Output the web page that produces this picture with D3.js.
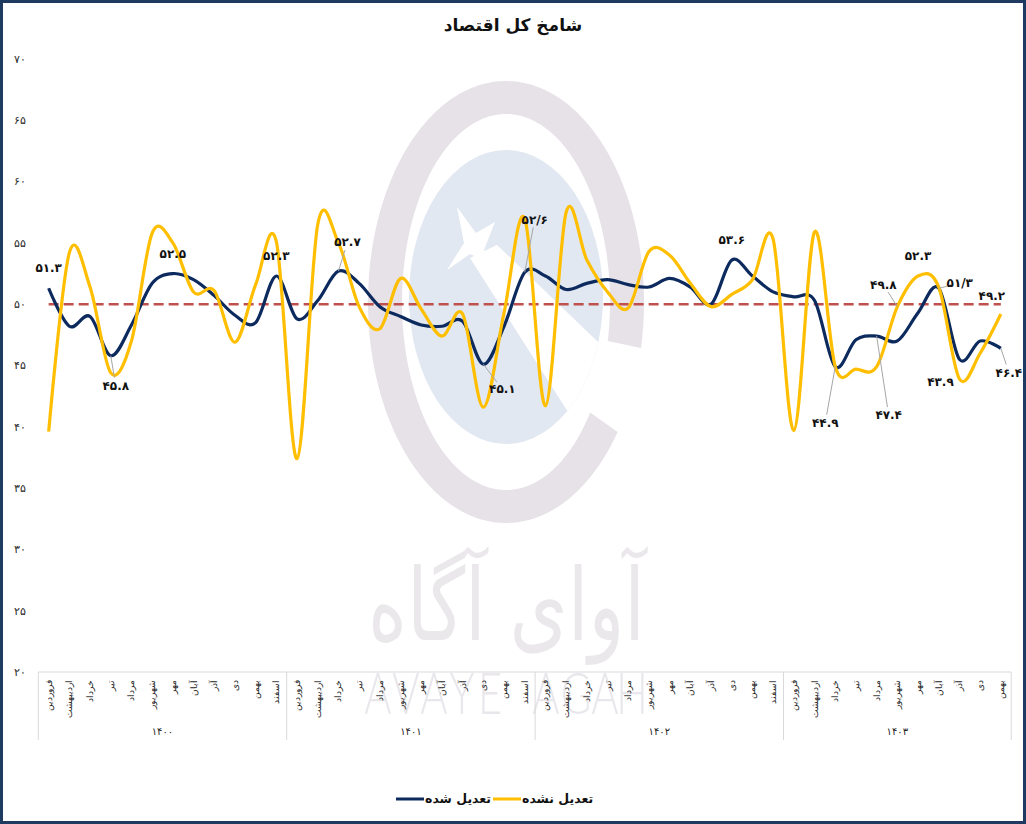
<!DOCTYPE html>
<html lang="fa">
<head>
<meta charset="UTF-8">
<title>شامخ کل اقتصاد</title>
<style>
    body {
        margin: 0;
        background: #fff;
    }
    svg {
        display: block;
        font-family: "DejaVu Sans", sans-serif;
    }
    .tick-label { fill: #262626; font-size: 10.5px; }
    .month-label { fill: #262626; font-size: 8.5px; }
    .year-label { fill: #262626; font-size: 10px; }
    .data-label { fill: #111; font-size: 12px; font-weight: bold; }
    .leader { stroke: #a6a6a6; stroke-width: 1; }
</style>
<script src="https://cdn.jsdelivr.net/npm/d3@7"></script>
</head>
<body>
<svg id="chart" width="1026" height="824"></svg>
<script>
    // ---- data ----
    const months = ["فروردین", "اردیبهشت", "خرداد", "تیر", "مرداد", "شهریور",
                    "مهر", "آبان", "آذر", "دی", "بهمن", "اسفند"];
    const years = ["۱۴۰۰", "۱۴۰۱", "۱۴۰۲", "۱۴۰۳"];
    const monthsPerYear = [12, 12, 12, 11];

    // تعدیل شده
    const adjusted = [51.3, 48.2, 49.0, 45.8, 48.3, 51.7, 52.5, 52.0, 50.7, 49.1, 48.5, 52.3,
                      48.8, 50.3, 52.7, 51.7, 49.8, 49.0, 48.3, 48.2, 48.6, 45.1, 48.2, 52.6,
                      52.3, 51.2, 51.7, 52.0, 51.6, 51.4, 52.1, 51.4, 50.0, 53.6, 52.3, 51.0,
                      50.6, 50.3, 44.9, 47.1, 47.4, 47.0, 49.3, 51.3, 45.5, 47.0, 46.4];
    // تعدیل نشده
    const unadjusted = [39.6, 54.2, 51.4, 44.4, 47.0, 55.8, 55.0, 51.0, 51.1, 46.9, 51.6, 55.1,
                        37.4, 56.5, 55.0, 49.8, 48.0, 52.1, 49.6, 47.4, 49.2, 41.6, 49.3, 57.0,
                        41.7, 57.5, 53.6, 51.0, 49.7, 54.3, 54.0, 51.7, 49.8, 50.8, 52.0, 55.3,
                        39.7, 55.9, 44.9, 44.7, 44.9, 49.8, 52.3, 51.4, 43.9, 46.0, 49.2];
    const threshold = 50;
    const yTicks = [20, 25, 30, 35, 40, 45, 50, 55, 60, 65, 70];

    // data labels shown on the chart
    const labelSeries = ["adj", "adj", "adj", "adj", "adj", "adj", "adj", "adj",
                         "adj", "adj", "unadj", "unadj", "adj", "unadj", "unadj", "adj"];
    const labelIndex = [0, 3, 6, 11, 14, 21, 23, 33, 38, 40, 41, 42, 43, 44, 46, 46];
    const labelText = ["۵۱.۳", "۴۵.۸", "۵۲.۵", "۵۲.۳", "۵۲.۷", "۴۵.۱", "۵۲/۶", "۵۳.۶",
                       "۴۴.۹", "۴۷.۴", "۴۹.۸", "۵۲.۳", "۵۱/۳", "۴۳.۹", "۴۹.۲", "۴۶.۴"];

    // label placement (offset from its point) and leader flag
    const labelOffsets = [[0, -20], [5, 30], [0, -20], [0, -20], [9, -29], [19, 25], [10, -53], [0, -20],
                          [-10, 56], [12, 79], [-14, -22], [0, -20], [21, -5], [-19, 3], [-9, -18], [8, 24]];
    const labelLeader = [false, true, false, false, true, true, true, false,
                         true, true, true, false, true, false, false, true];

    const toFa = v => String(v).replace(/\d/g, d => "۰۱۲۳۴۵۶۷۸۹"[d]);

    // ---- setup ----
    const width = 1026, height = 824;
    const N = adjusted.length;
    const svg = d3.select("#chart");

    const x = d3.scaleBand()
                .domain(d3.range(N))
                .range([38.3, 1011.2]);
    const cx = i => x(i) + x.bandwidth() / 2;

    const y = d3.scaleLinear()
                .domain([20, 70])
                .range([672, 59]);

    // frame
    svg.append("rect")
       .attr("x", 1.5).attr("y", 1.5)
       .attr("width", width - 3).attr("height", height - 3)
       .attr("fill", "#fff")
       .attr("stroke", "#1f3a60")
       .attr("stroke-width", 3);

    // ---- watermark (logo + name) ----
    const wm = svg.append("g").attr("class", "watermark");
    const lx = 506, ly = 302;

    function ringPath(rxo, ryo, rxi, ryi, a0, a1) {
        const ts = d3.range(a0, a1 + 0.5, 1).map(a => a * Math.PI / 180);
        const outer = ts.map(t => [lx + rxo * Math.cos(t), ly + ryo * Math.sin(t)]);
        const inner = ts.slice().reverse().map(t => [lx + rxi * Math.cos(t), ly + ryi * Math.sin(t)]);
        return d3.line()(outer.concat(inner)) + "Z";
    }
    wm.append("path")
      .attr("d", ringPath(138, 221, 104, 188, 36, 372))
      .attr("fill", "#e7e2e8");

    wm.append("clipPath").attr("id", "disc-clip")
      .append("ellipse")
      .attr("cx", 506).attr("cy", 297).attr("rx", 97).attr("ry", 147);
    wm.append("ellipse")
      .attr("cx", 506).attr("cy", 297).attr("rx", 97).attr("ry", 147)
      .attr("fill", "#e2e8f1");
    wm.append("polygon")
      .attr("clip-path", "url(#disc-clip)")
      .attr("points", "470,258 497,245 650,392 605,470")
      .attr("fill", "#fff");
    wm.append("polygon")
      .attr("points", "457,207 476,233 495,222 484,250 488,262 470,254 447,270 464,243")
      .attr("fill", "#fff");

    wm.append("text")
      .attr("x", 368).attr("y", 640)
      .attr("textLength", 277)
      .attr("lengthAdjust", "spacingAndGlyphs")
      .attr("fill", "#ebe8ec")
      .style("font-size", "100px")
      .text("آوای آگاه");

    // latin name, one letter at a time (narrow, widely spaced)
    const wmLetters = "AVAYE AGAH".split("").filter(c => c !== " ");
    const wmLetterX = [378, 406, 434, 462, 490, 546, 576, 605, 632];
    wm.append("g").selectAll("text")
      .data(wmLetters)
      .join("text")
      .attr("transform", (d, k) => `translate(${wmLetterX[k]},714) scale(0.72,1)`)
      .attr("text-anchor", "middle")
      .attr("fill", "#e9e7eb")
      .style("font-family", "Lato, 'Open Sans', sans-serif")
      .style("font-weight", 300)
      .style("font-size", "58px")
      .text(d => d);

    // ---- title ----
    svg.append("text")
       .attr("x", 513).attr("y", 31)
       .attr("text-anchor", "middle")
       .style("font-size", "17px")
       .style("font-weight", "bold")
       .attr("fill", "#111")
       .text("شامخ کل اقتصاد");

    // ---- y axis (labels only) ----
    const yAxis = svg.append("g")
                     .attr("transform", "translate(29,0)")
                     .call(d3.axisLeft(y).tickValues(yTicks).tickFormat(toFa).tickSize(0).tickPadding(3));
    yAxis.select(".domain").remove();
    yAxis.selectAll("text").attr("class", "tick-label").attr("fill", null).style("font-family", null).style("font-size", null);

    // ---- category axis ----
    const xAxis = svg.append("g")
                     .attr("transform", "translate(0,672)")
                     .call(d3.axisBottom(x).tickFormat(i => months[i % 12]).tickSize(0));
    xAxis.select(".domain").attr("stroke", "#d9d9d9").attr("d", `M${x.range()[0]},0H${x.range()[1]}`);
    xAxis.selectAll("text")
         .attr("class", "month-label")
         .attr("fill", null)
         .attr("transform", "rotate(-90)")
         .attr("text-anchor", "end")
         .attr("x", -8).attr("y", 0)
         .attr("dy", "0.35em");

    let start = 0;
    const groupEdges = [0];
    monthsPerYear.forEach(n => { start += n; groupEdges.push(start); });
    svg.append("g").selectAll("line")
       .data(groupEdges)
       .join("line")
       .attr("x1", d => d < N ? x(d) : x(N - 1) + x.bandwidth())
       .attr("x2", d => d < N ? x(d) : x(N - 1) + x.bandwidth())
       .attr("y1", 672).attr("y2", 740)
       .attr("stroke", "#d9d9d9");
    svg.append("g").selectAll("text")
       .data(years)
       .join("text")
       .attr("class", "year-label")
       .attr("x", (d, k) => (x(groupEdges[k]) + x(groupEdges[k + 1] - 1) + x.bandwidth()) / 2)
       .attr("y", 735)
       .attr("text-anchor", "middle")
       .text(d => d);

    // ---- lines ----
    const line = d3.line()
                   .x((d, i) => cx(i))
                   .y(d => y(d))
                   .curve(d3.curveCatmullRom.alpha(0));

    svg.append("path")
       .datum(adjusted.map(() => threshold))
       .attr("d", d3.line().x((d, i) => cx(i)).y(d => y(d)))
       .attr("fill", "none")
       .attr("stroke", "#c0504d")
       .attr("stroke-width", 2.6)
       .attr("stroke-dasharray", "10,5");

    svg.append("path")
       .datum(adjusted)
       .attr("d", line)
       .attr("fill", "none")
       .attr("stroke", "#0c2a5e")
       .attr("stroke-width", 3.2)
       .attr("stroke-linejoin", "round");

    svg.append("path")
       .datum(unadjusted)
       .attr("d", line)
       .attr("fill", "none")
       .attr("stroke", "#ffbf00")
       .attr("stroke-width", 3.2)
       .attr("stroke-linejoin", "round");

    // ---- data labels ----
    const labels = labelText.map((t, k) => {
        const vals = labelSeries[k] === "adj" ? adjusted : unadjusted;
        const i = labelIndex[k];
        const px = cx(i), py = y(vals[i]);
        return {t, px, py, lx: px + labelOffsets[k][0], ly: py + labelOffsets[k][1], leader: labelLeader[k]};
    });

    function leaderEnd(d) {
        const vx = d.px - d.lx, vy = d.py - d.ly, len = Math.hypot(vx, vy);
        const ux = vx / len, uy = vy / len;
        const r = 1 / Math.sqrt((ux / 14) ** 2 + (uy / 8) ** 2);
        return [d.lx + ux * r, d.ly + uy * r];
    }

    svg.append("g").selectAll("line")
       .data(labels.filter(d => d.leader))
       .join("line")
       .attr("class", "leader")
       .attr("x1", d => d.px).attr("y1", d => d.py)
       .attr("x2", d => leaderEnd(d)[0])
       .attr("y2", d => leaderEnd(d)[1]);

    svg.append("g").selectAll("text")
       .data(labels)
       .join("text")
       .attr("class", "data-label")
       .attr("x", d => d.lx).attr("y", d => d.ly)
       .attr("dy", "0.35em")
       .attr("text-anchor", "middle")
       .text(d => d.t);

    // ---- legend ----
    const legendItems = [
        {name: "تعدیل شده", color: "#0c2a5e", x: 396},
        {name: "تعدیل نشده", color: "#ffbf00", x: 493}
    ];
    const legend = svg.append("g").selectAll("g")
                      .data(legendItems)
                      .join("g")
                      .attr("transform", d => `translate(${d.x},799)`);
    legend.append("line")
          .attr("x1", 0).attr("x2", 28)
          .attr("stroke", d => d.color)
          .attr("stroke-width", 3);
    legend.append("text")
          .attr("x", 29).attr("dy", "0.3em")
          .style("font-size", "12.5px")
          .style("font-weight", "bold")
          .attr("fill", "#111")
          .text(d => d.name);
</script>
</body>
</html>
